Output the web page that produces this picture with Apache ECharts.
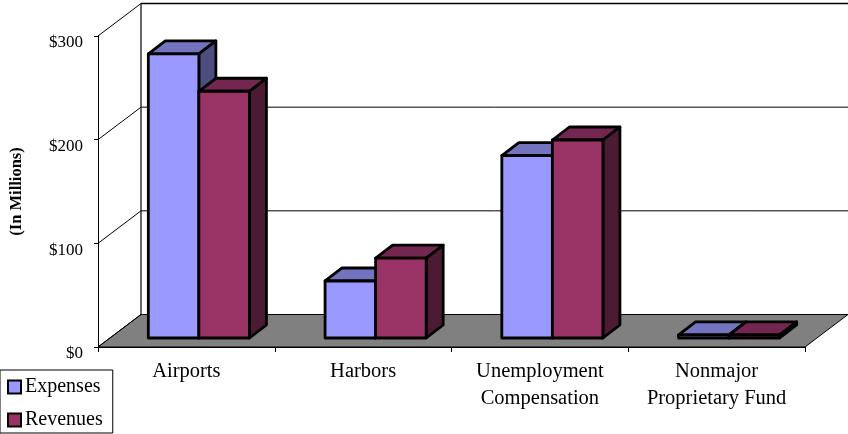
<!DOCTYPE html>
<html>
<head>
<meta charset="utf-8">
<style>html,body{margin:0;padding:0;background:#fff}#chart{width:848px;height:434px}</style>
<script src="https://cdn.jsdelivr.net/npm/echarts@6/dist/echarts.min.js"></script>
</head>
<body>
<div id="chart"></div>
<script>
// Expenses and revenues by enterprise fund, in millions of dollars
const categories = ['Airports', 'Harbors', 'Unemployment\nCompensation', 'Nonmajor\nProprietary Fund'];
const expenses = [274, 55, 176, 3];
const revenues = [238, 77, 191, 3];
const yTicks = [0, 100, 200, 300];

// Oblique projection used for the box and the columns, in pixels
const boxDepth = [43, -32.5];
const floorInset = [12.5, -9];
const colDepth = [17, -13];
const colShare = 0.286;

const faces = {
  Expenses: { front: '#9999FF', top: '#7373BF', side: '#4D4D80' },
  Revenues: { front: '#993366', top: '#732650', side: '#4D1A33' }
};

const font = 'Liberation Serif, Times New Roman, serif';
const poly = (points, fill, lw) => ({
  type: 'polygon',
  shape: { points },
  style: { fill, stroke: '#000', lineWidth: lw, lineJoin: 'round' }
});
const line = (a, b, lw) => ({
  type: 'line',
  shape: { x1: a[0], y1: a[1], x2: b[0], y2: b[1] },
  style: { stroke: '#000', lineWidth: lw || 1 }
});

// Side wall, back wall, floor and the gridlines that wrap around them
function renderBox(params, api) {
  const g = params.coordSys;
  const [dx, dy] = boxDepth;
  const x0 = g.x, x1 = g.x + g.width;
  const y0 = api.coord([0, 0])[1];
  const yTop = api.coord([0, yTicks[yTicks.length - 1]])[1];
  const children = [
    poly([[x0, y0], [x0 + dx, y0 + dy], [x1 + dx, y0 + dy], [x1, y0]], '#808080', 1)
  ];
  yTicks.forEach(v => {
    const y = api.coord([0, v])[1];
    children.push(line([x0, y], [x0 + dx, y + dy]));
    children.push(line([x0 + dx, y + dy], [x1 + dx, y + dy], v === yTicks[yTicks.length - 1] ? 1.5 : 1));
  });
  children.push(line([x0 + dx, yTop + dy], [x0 + dx, y0 + dy], 1.2));
  return { type: 'group', children };
}

// One extruded column: front, top and right faces
function columnRenderer(name, slot) {
  const c = faces[name];
  return function (params, api) {
    const base = api.coord([api.value(0), 0]);
    const band = api.size([1, 0])[0];
    const w = band * colShare;
    const h = api.size([0, api.value(1)])[1];
    const l = base[0] + floorInset[0] + (slot - 1) * w;
    const r = l + w;
    const b = base[1] + floorInset[1];
    const t = b - h;
    const [dx, dy] = colDepth;
    return {
      type: 'group',
      children: [
        poly([[l, t], [l + dx, t + dy], [r + dx, t + dy], [r, t]], c.top, 2.8),
        poly([[r, t], [r + dx, t + dy], [r + dx, b + dy], [r, b]], c.side, 2.8),
        poly([[l, t], [r, t], [r, b], [l, b]], c.front, 2.8)
      ]
    };
  };
}

const columnSeries = (name, values, slot) => ({
  name,
  type: 'custom',
  coordinateSystem: 'cartesian2d',
  renderItem: columnRenderer(name, slot),
  itemStyle: { color: faces[name].front },
  data: values.map((v, i) => [i, v]),
  encode: { x: 0, y: 1 },
  z: 3 + slot
});

const chart = echarts.init(document.getElementById('chart'), null, { renderer: 'canvas' });
chart.setOption({
  animation: false,
  backgroundColor: '#fff',
  grid: { left: 98, top: 36, width: 707, height: 311 },
  textStyle: { fontFamily: font, color: '#000' },
  xAxis: {
    type: 'category',
    data: categories,
    axisLine: { show: true, lineStyle: { color: '#000', width: 1 } },
    axisTick: { show: true, interval: 0, alignWithLabel: false, length: 5, lineStyle: { color: '#000', width: 1 } },
    axisLabel: { interval: 0, color: '#000', fontFamily: font, fontSize: 20.5, lineHeight: 27, margin: 11 },
    z: 5
  },
  yAxis: {
    type: 'value',
    min: 0,
    max: 300,
    interval: 100,
    name: '(In Millions)',
    nameLocation: 'middle',
    nameRotate: 90,
    nameGap: 73,
    nameTextStyle: { color: '#000', fontFamily: font, fontSize: 16.5, fontWeight: 'bold' },
    axisLine: { show: true, lineStyle: { color: '#000', width: 1 } },
    axisTick: { show: true, length: 4, lineStyle: { color: '#000' } },
    splitLine: { show: false },
    axisLabel: { color: '#000', fontFamily: font, fontSize: 17, margin: 15, verticalAlign: 'top', lineHeight: 14, formatter: v => '$' + v }
  },
  legend: {
    data: ['Expenses', 'Revenues'],
    left: 0,
    top: 370,
    orient: 'vertical',
    icon: 'rect',
    itemWidth: 13,
    itemHeight: 13,
    itemGap: 13,
    padding: [7, 10, 3, 7],
    borderColor: '#000',
    borderWidth: 1,
    backgroundColor: '#fff',
    selectedMode: false,
    itemStyle: { borderColor: '#000', borderWidth: 2 },
    textStyle: { color: '#000', fontFamily: font, fontSize: 20, height: 20, lineHeight: 20, padding: [0, 0, 0, -1] }
  },
  series: [
    { type: 'custom', coordinateSystem: 'cartesian2d', renderItem: renderBox, silent: true, data: [[0, 0]], z: 1 },
    columnSeries('Expenses', expenses, 0),
    columnSeries('Revenues', revenues, 1)
  ]
});
</script>
</body>
</html>
